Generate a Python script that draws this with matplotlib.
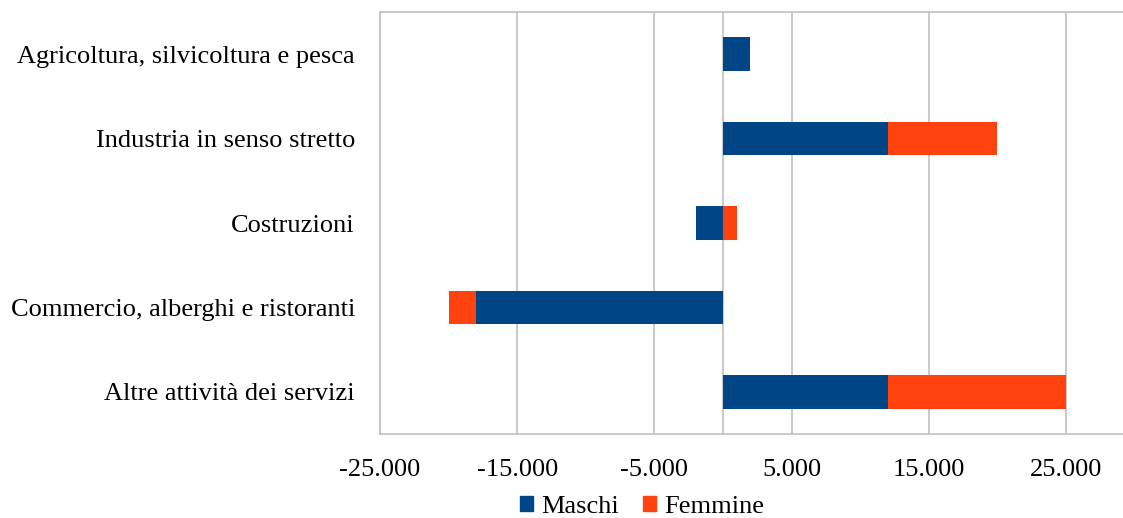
import matplotlib
matplotlib.use("Agg")
import matplotlib.pyplot as plt
from matplotlib.patches import Patch
import numpy as np

categories = ["Agricoltura, silvicoltura e pesca", "Industria in senso stretto",
              "Costruzioni", "Commercio, alberghi e ristoranti", "Altre attività dei servizi"]
maschi = [2000, 12000, -2000, -18000, 12000]
femmine = [0, 8000, 1000, -2000, 13000]
xticks = [-25000, -15000, -5000, 5000, 15000, 25000]
xticklabels = ["-25.000", "-15.000", "-5.000", "5.000", "15.000", "25.000"]

c_m = "#004586"
c_f = "#FF420E"
grid_c = "#c0c0c0"

plt.rcParams['font.family'] = ['Liberation Serif', 'DejaVu Serif']

fig = plt.figure(figsize=(11.23, 5.18), dpi=100)
ax = fig.add_axes([380/1123, 84/518, (1123-380)/1123, 422/518])

y = np.arange(len(categories))
m = np.array(maschi, dtype=float)
f = np.array(femmine, dtype=float)
left_f = np.where(np.sign(f) == np.sign(m), m, 0)
ax.barh(y, m, height=0.4, color=c_m, zorder=3)
ax.barh(y, f, left=left_f, height=0.4, color=c_f, zorder=3)

ax.set_xlim(-25000, 29150)
ax.set_ylim(len(categories) - 0.5, -0.5)
ax.set_xticks(xticks)
ax.set_xticklabels(xticklabels, fontsize=19)
ax.set_yticks(y)
ax.set_yticklabels(categories, fontsize=19)
ax.tick_params(axis='both', length=0)
ax.tick_params(axis='y', pad=18)
ax.tick_params(axis='x', pad=18)
ax.grid(axis='x', color=grid_c, linewidth=1.2, zorder=0)
ax.axvline(0, color=grid_c, linewidth=1.2, zorder=1)
for s in ['top', 'bottom', 'left']:
    ax.spines[s].set_color(grid_c)
    ax.spines[s].set_linewidth(1.2)
ax.spines['right'].set_visible(False)

handles = [Patch(color=c_m, label="Maschi"), Patch(color=c_f, label="Femmine")]
fig.legend(handles=handles, loc='center', bbox_to_anchor=(642/1123, 1 - 507/518),
           ncol=2, frameon=False, fontsize=19, handlelength=0.52, handleheight=0.52,
           handletextpad=0.3, columnspacing=0.9, borderpad=0)

fig.savefig("out.png", dpi=100)
